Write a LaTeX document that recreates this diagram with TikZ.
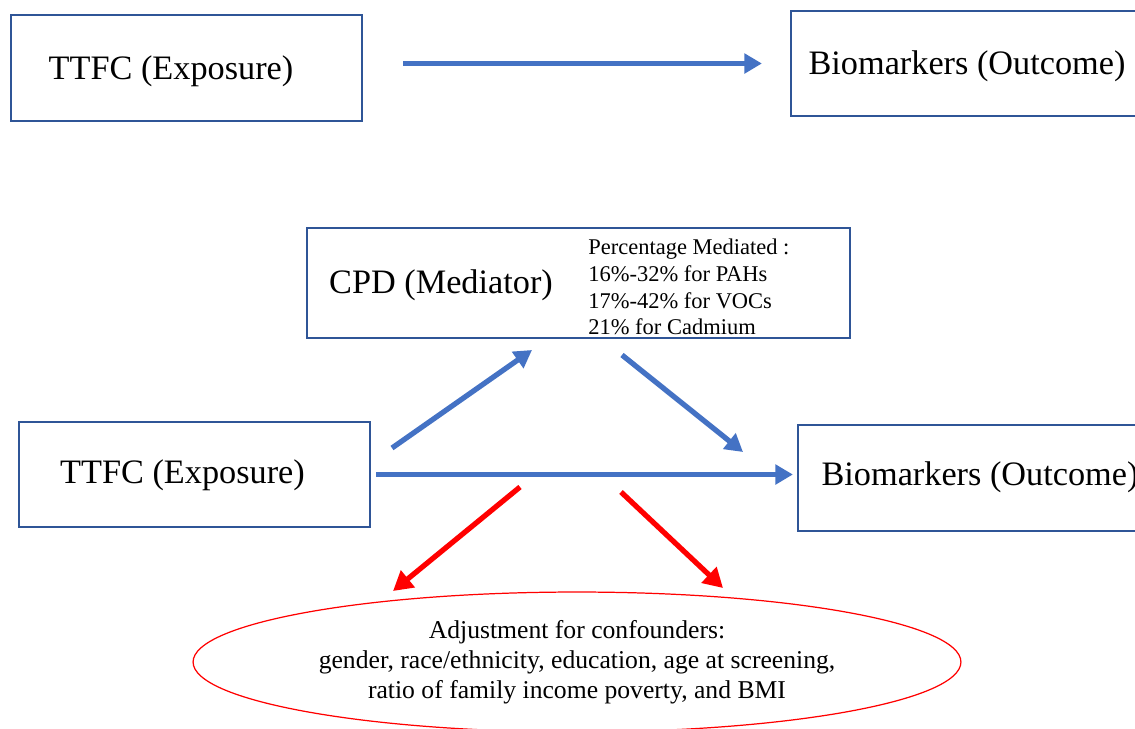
\documentclass[tikz,border=0pt]{standalone}
\usepackage{fontspec}
\setmainfont{Liberation Serif}
\usetikzlibrary{arrows.meta, positioning, shapes.geometric}
\definecolor{boxblue}{HTML}{2F5597}
\definecolor{arrowblue}{HTML}{4472C4}
\definecolor{confred}{HTML}{FF0000}

\begin{document}
\begin{tikzpicture}[
        x=0.02cm, y=-0.02cm,
        varbox/.style={draw=boxblue, line width=1.3pt, inner sep=0pt, minimum width=7.02cm, minimum height=2.12cm},
        bigtext/.style={font=\fontsize{19.5}{23}\selectfont, inner sep=0pt},
        smalltext/.style={font=\fontsize{12.8}{15.3}\selectfont, align=left, inner sep=0pt},
        conftext/.style={font=\fontsize{14.6}{17}\selectfont, align=center, inner sep=0pt},
        bluearrow/.style={-{Triangle[length=10pt,width=11pt]}, line width=3pt, arrowblue},
        redarrow/.style={-{Triangle[length=11pt,width=12pt]}, line width=3pt, confred},
        ]

        \useasboundingbox (0,0) rectangle (1135,728);
        \clip (0,0) rectangle (1135,728);

        % total effect
        \node[varbox]                       (ttfcTop) at (186.5,68)  {};
        \node[varbox, minimum width=7.2cm, minimum height=2.1cm] (bioTop) at (971,63.5) {};
        \node[bigtext] (ttfcTopLbl) at (171,71.5) {TTFC (Exposure)};
        \node[bigtext] (bioTopLbl)  at (967,66)   {Biomarkers (Outcome)};

        \path[bluearrow, shorten <=0.8cm, shorten >=0.56cm] (ttfcTop.east |- bioTop.west) edge (bioTop.west);

        % mediation model
        \node[varbox, minimum width=10.86cm, minimum height=2.2cm] (cpd) at (578.5,283) {};
        \node[bigtext]   (cpdLbl)  at (441,285) {CPD (Mediator)};
        \node[smalltext, anchor=west] (pmLbl) at (588,287)
            {Percentage Mediated :\\16\%-32\% for PAHs\\17\%-42\% for VOCs\\21\% for Cadmium};

        \node[varbox, minimum height=2.1cm]                    (ttfcBot) at (194.5,474.5) {};
        \node[varbox, minimum width=7.28cm, minimum height=2.12cm] (bioBot) at (980,478) {};
        \node[bigtext] (ttfcBotLbl) at (182.5,475) {TTFC (Exposure)};
        \node[bigtext] (bioBotLbl)  at (980,477)   {Biomarkers (Outcome)};

        \node[ellipse, draw=confred, line width=0.7pt, minimum width=15.36cm, minimum height=2.8cm, conftext]
            (conf) at (577,662)
            {Adjustment for confounders:\\gender, race/ethnicity, education, age at screening,\\ratio of family income poverty, and BMI};

        \coordinate (upTail)   at (392,448);
        \coordinate (upTip)    at (532,350);
        \coordinate (downTail) at (622,355);
        \coordinate (downTip)  at (743,452);
        \coordinate (redLTail) at (520,487);
        \coordinate (redLTip)  at (393,591);
        \coordinate (redRTail) at (621,492);
        \coordinate (redRTip)  at (723,588);

        \path[bluearrow, shorten <=0.1cm, shorten >=0.08cm] (ttfcBot.east) edge (ttfcBot.east -| bioBot.west);
        \path[bluearrow] (upTail) edge (upTip)
                         (downTail) edge (downTip);
        \path[redarrow]  (redLTail) edge (redLTip)
                         (redRTail) edge (redRTip);
      \end{tikzpicture}
\end{document}
